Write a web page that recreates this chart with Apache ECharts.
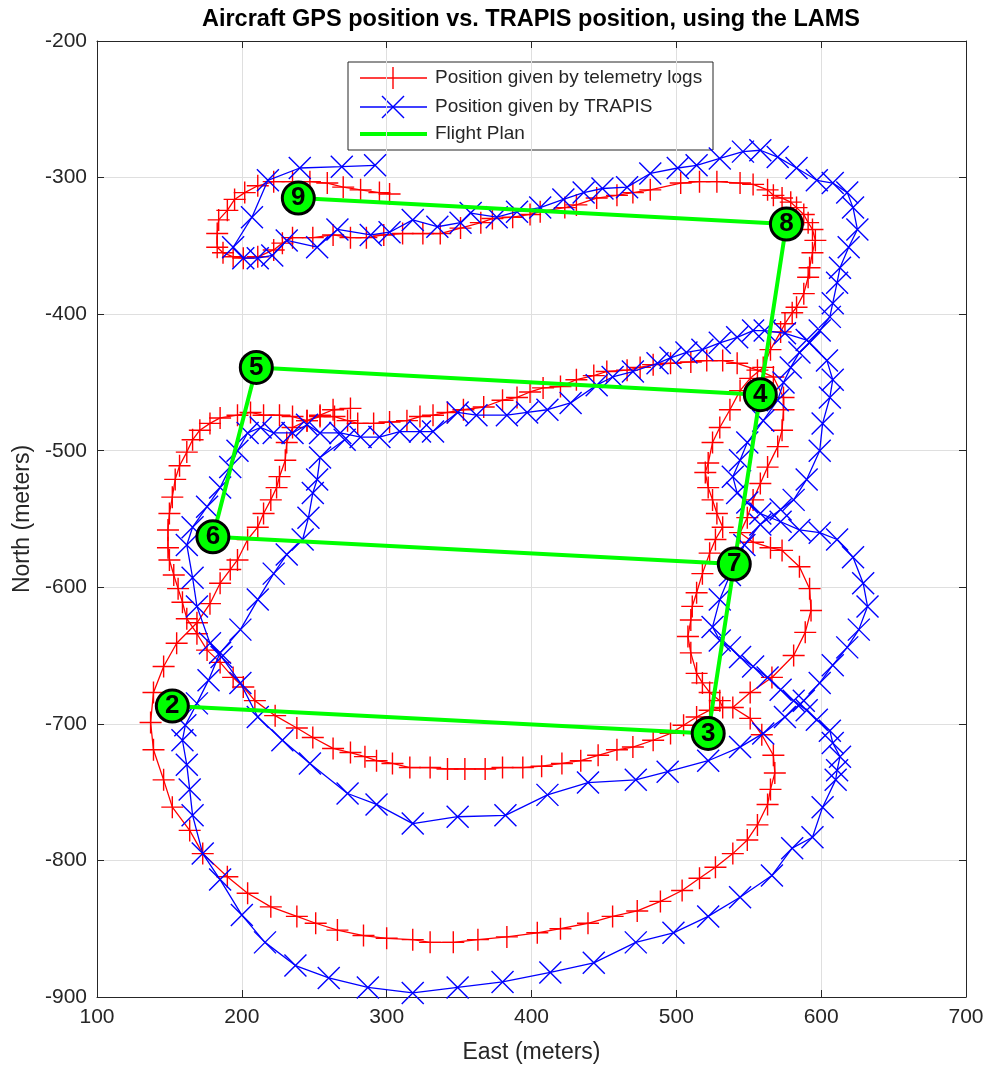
<!DOCTYPE html>
<html>
<head>
<meta charset="utf-8">
<title>Aircraft GPS position vs. TRAPIS position</title>
<script src="https://cdn.jsdelivr.net/npm/echarts@6/dist/echarts.min.js"></script>
<style>
  html, body { margin: 0; padding: 0; background: #fff; }
  #chart { width: 989px; height: 1073px; }
</style>
</head>
<body>
<div id="chart"></div>
<script>
// East / North positions in meters

// telemetry log track (red, '+')
const redTrack = [
  [275,-469],[263,-470],[254,-474],[245,-478],[235,-483],[231,-494],[230,-507],[226,-519],[224,-527],[220,-536],
  [215,-546],[211,-556],[204,-565],[197,-580],[192,-587],[185,-597],[178,-612],[169,-626],[155,-641],[146,-658],
  [139,-677],[137,-699],[139,-719],[146,-741],[152,-761],[164,-778],[173,-795],[190,-812],[204,-824],[220,-834],
  [238,-841],[251,-846],[266,-851],[284,-855],[300,-857],[318,-858],[330,-860],[346,-860],[363,-858],[383,-856],
  [404,-853],[420,-850],[439,-846],[456,-841],[473,-837],[489,-830],[504,-822],[516,-813],[527,-805],[539,-795],
  [549,-785],[556,-774],[563,-759],[565,-748],[568,-736],[567,-723],[559,-708],[551,-696],[539,-688],
  [551,-677],[566,-666],[581,-650],[589,-633],[593,-617],[592,-601],[585,-585],[573,-573],[565,-571],[553,-567],[544,-560],
  [549,-549],[553,-536],[558,-524],[563,-512],[570,-497],[573,-485],[574,-470],[574,-461],[567,-446],[556,-441],
  [542,-436],[532,-434],[521,-434],[510,-435],[496,-436],[484,-437],[475,-439],[466,-441],[452,-442],[443,-445],
  [431,-448],[420,-453],[408,-454],[399,-457],[390,-461],[380,-463],[367,-468],[353,-470],[342,-472],[332,-474],
  [323,-475],[314,-478],[302,-479],[291,-480],[280,-480],[273,-478],[264,-475],[254,-475],[245,-478],[235,-475],
  [226,-474],[215,-474],[206,-472],[197,-474],[185,-476],[178,-480],[171,-485],[166,-492],[162,-501],[157,-511],
  [154,-521],[152,-534],[150,-546],[149,-558],[149,-571],[150,-580],[153,-591],[156,-601],[159,-611],[162,-623],
  [169,-634],[176,-646],[185,-655],[194,-666],[201,-673],[209,-683],[223,-694],[238,-703],[249,-710],[263,-718],
  [275,-721],[285,-724],[293,-727],[304,-729],[316,-732],[330,-732],[342,-733],[354,-733],[368,-733],[380,-732],
  [394,-732],[407,-731],[421,-729],[434,-727],[446,-723],[459,-719],[470,-717],[484,-712],[496,-707],[505,-701],
  [514,-695],[523,-690],[532,-688],
  [530,-683],[523,-677],[518,-670],[514,-663],[510,-648],[508,-636],[510,-624],[511,-614],[514,-604],[518,-590],
  [523,-575],[527,-565],[532,-556],[528,-546],[525,-536],[522,-527],[520,-516],[522,-509],[525,-494],[530,-483],
  [537,-470],[544,-456],[551,-447],[560,-439],[565,-426],[572,-413],[575,-407],[580,-399],[583,-395],[588,-385],
  [591,-373],[592,-366],[594,-355],[596,-346],[594,-338],[591,-333],[588,-327],[583,-322],[579,-318],[573,-315],
  [567,-313],[563,-309],[553,-305],[544,-304],[528,-303],[516,-303],[503,-304],[482,-309],[470,-311],[459,-313],
  [445,-315],[431,-320],[423,-322],[406,-325],[399,-327],[387,-329],[373,-330],[365,-333],[351,-337],[337,-341],
  [325,-341],[311,-341],[298,-342],[286,-344],[275,-344],[263,-342],[249,-344],[235,-344],[228,-348],[222,-353],
  [211,-358],[201,-359],[194,-358],[187,-355],[183,-351],[183,-341],[184,-331],[190,-324],[195,-316],[202,-311],
  [211,-306],[222,-303],[235,-303],[247,-303],[259,-304],[270,-307],[282,-309],[295,-311],[302,-312]
];

// TRAPIS track (blue, 'x')
const blueTrack = [
  [271,-492],[254,-505],[252,-521],[249,-531],[246,-549],[242,-565],[231,-576],[222,-590],[211,-609],[199,-631],
  [185,-648],[177,-668],[169,-685],[161,-701],[159,-712],[162,-730],[164,-748],[166,-767],[173,-795],[185,-814],
  [200,-840],[216,-860],[237,-877],[260,-886],[287,-893],[318,-897],[349,-893],[380,-889],[413,-882],[443,-875],
  [472,-860],[498,-853],[522,-841],[544,-827],[566,-811],[580,-791],[594,-783],[601,-761],[610,-741],[611,-734],
  [613,-724],[608,-714],
  [606,-705],[597,-697],[590,-690],[581,-683],[572,-675],[563,-666],[553,-658],[544,-651],[537,-644],[530,-639],
  [525,-629],[530,-609],[537,-591],[547,-569],[558,-554],[572,-543],[581,-536],[590,-521],[599,-500],[601,-480],
  [606,-461],[608,-448],[604,-434],[590,-419],[575,-414],[561,-412],[553,-412],[542,-417],[530,-421],[518,-426],
  [507,-428],[496,-432],[487,-436],[470,-442],[456,-446],[445,-452],[427,-465],[411,-470],[397,-472],[383,-474],
  [362,-474],[349,-472],[332,-486],[323,-486],[309,-486],[295,-490],[282,-490],[268,-487],[254,-487],[245,-481],
  [235,-487],[222,-487],[213,-483],[204,-487],[197,-500],[192,-512],[185,-527],[176,-541],[166,-556],[162,-569],
  [166,-593],[169,-614],[178,-641],[186,-651],[199,-670],[211,-695],[228,-712],[247,-729],[273,-751],[293,-759],
  [318,-773],[349,-768],[382,-767],[411,-752],[439,-743],[472,-741],[494,-735],[522,-727],[544,-717],[560,-707],
  [575,-695],[588,-683],[599,-670],[608,-657],[618,-644],[626,-631],[632,-614],[629,-597],[622,-578],[611,-565],
  [599,-560],[585,-558],[572,-552],[558,-546],[549,-538],[542,-531],[539,-519],[544,-507],[549,-494],[560,-478],
  [570,-463],[574,-450],[579,-439],[585,-428],[592,-421],[599,-412],[606,-402],[608,-392],[611,-377],[613,-366],
  [619,-351],[625,-338],[622,-322],[618,-311],[608,-304],[597,-302],[583,-293],[570,-285],[558,-280],[546,-281],
  [530,-286],[514,-291],[501,-293],[482,-297],[466,-307],[449,-308],[436,-311],[422,-316],[406,-322],[390,-325],
  [376,-329],[358,-326],[351,-333],[335,-336],[318,-331],[302,-340],[289,-342],[266,-338],[252,-351],[231,-346],
  [221,-357],[211,-359],[201,-359],[194,-351],[207,-329],[218,-302],[240,-293],[269,-292],[292,-291]
];

// flight plan waypoints, in flight order
const planEast   = [152, 522, 558, 210, 180, 540, 576, 239];
const planNorth  = [-687, -707, -459, -439, -563, -583, -334, -315];
const planLabels = ['2', '3', '4', '5', '6', '7', '8', '9'];

const legendNames = ['Position given by telemetry logs', 'Position given by TRAPIS', 'Flight Plan'];

const FONT = '"Liberation Sans", Arial, Helvetica, sans-serif';
const INK = '#262626';
const RED = '#ff0000';
const BLUE = '#0000ff';
const GREEN = '#00ff00';
const PLUS = 'path://M12,0L12,24M0,12L24,12';
const CROSS = 'path://M0,0L24,24M24,0L0,24';

const planPoints = planEast.map((e, i) => [e, planNorth[i]]);

const chart = echarts.init(document.getElementById('chart'), null, { renderer: 'canvas' });

function mirrorAxis(pos, min, max) {
  return {
    type: 'value', position: pos, min: min, max: max, interval: 100,
    axisLine: { show: true, onZero: false, lineStyle: { color: INK, width: 1 } },
    axisTick: { show: true, inside: true, length: 7, lineStyle: { color: INK } },
    axisLabel: { show: false },
    splitLine: { show: false },
  };
}

function trackSeries(name, data, symbol, color, z) {
  return {
    name: name,
    type: 'line',
    data: data,
    z: z,
    symbol: symbol,
    symbolSize: 22,
    showAllSymbol: true,
    lineStyle: { color: color, width: 1.3 },
    itemStyle: { color: color, borderColor: color, borderWidth: 1.4 },
    emphasis: { disabled: true },
    silent: true,
  };
}

const legendRows = [78, 107, 134];
const legendGraphics = [
  { type: 'rect', shape: { x: 348, y: 62, width: 365, height: 88 },
    style: { fill: '#ffffff', stroke: INK, lineWidth: 1 } },
  { type: 'line', shape: { x1: 360, y1: legendRows[0], x2: 427, y2: legendRows[0] }, style: { stroke: RED, lineWidth: 1.3 } },
  { type: 'line', shape: { x1: 393, y1: legendRows[0] - 11, x2: 393, y2: legendRows[0] + 11 }, style: { stroke: RED, lineWidth: 1.4 } },
  { type: 'line', shape: { x1: 360, y1: legendRows[1], x2: 427, y2: legendRows[1] }, style: { stroke: BLUE, lineWidth: 1.3 } },
  { type: 'line', shape: { x1: 382, y1: legendRows[1] - 11, x2: 404, y2: legendRows[1] + 11 }, style: { stroke: BLUE, lineWidth: 1.4 } },
  { type: 'line', shape: { x1: 404, y1: legendRows[1] - 11, x2: 382, y2: legendRows[1] + 11 }, style: { stroke: BLUE, lineWidth: 1.4 } },
  { type: 'line', shape: { x1: 360, y1: legendRows[2], x2: 427, y2: legendRows[2] }, style: { stroke: GREEN, lineWidth: 4 } },
].concat(legendNames.map((t, i) => ({
  type: 'text', x: 435, y: legendRows[i],
  style: { text: t, font: '19px ' + FONT, fill: INK, textAlign: 'left', textVerticalAlign: 'middle' },
})));

chart.setOption({
  animation: false,
  backgroundColor: '#ffffff',
  textStyle: { fontFamily: FONT },
  grid: { left: 97, right: 23, top: 41, bottom: 76 },
  xAxis: [
    {
      type: 'value', position: 'bottom', min: 100, max: 700, interval: 100,
      name: 'East (meters)', nameLocation: 'middle', nameGap: 44,
      nameTextStyle: { fontSize: 23, color: INK, fontFamily: FONT },
      axisLine: { show: true, onZero: false, lineStyle: { color: INK, width: 1 } },
      axisTick: { show: true, inside: true, length: 7, lineStyle: { color: INK } },
      axisLabel: { fontSize: 21, color: INK, margin: 10, fontFamily: FONT },
      splitLine: { show: true, lineStyle: { color: '#dfdfdf', width: 1 } },
    },
    mirrorAxis('top', 100, 700),
  ],
  yAxis: [
    {
      type: 'value', position: 'left', min: -900, max: -200, interval: 100,
      name: 'North (meters)', nameLocation: 'middle', nameGap: 58, nameRotate: 90,
      nameTextStyle: { fontSize: 23, color: INK, fontFamily: FONT },
      axisLine: { show: true, onZero: false, lineStyle: { color: INK, width: 1 } },
      axisTick: { show: true, inside: true, length: 7, lineStyle: { color: INK } },
      axisLabel: { fontSize: 21, color: INK, margin: 10, fontFamily: FONT },
      splitLine: { show: true, lineStyle: { color: '#dfdfdf', width: 1 } },
    },
    mirrorAxis('right', -900, -200),
  ],
  graphic: [
    { type: 'text', x: 531, y: 20, z: 100,
      style: { text: 'Aircraft GPS position vs. TRAPIS position, using the LAMS',
               font: 'bold 23.5px ' + FONT, fill: '#000000', textAlign: 'center', textVerticalAlign: 'middle' } },
    { type: 'group', z: 100, children: legendGraphics },
  ],
  series: [
    trackSeries(legendNames[0], redTrack, PLUS, RED, 2),
    trackSeries(legendNames[1], blueTrack, CROSS, BLUE, 3),
    {
      name: legendNames[2], type: 'line', data: planPoints, z: 4,
      symbol: 'none', lineStyle: { color: GREEN, width: 4 },
      emphasis: { disabled: true }, silent: true,
    },
    {
      name: 'waypoints', type: 'scatter', data: planPoints, z: 5,
      symbol: 'circle', symbolSize: 32,
      itemStyle: { color: GREEN, borderColor: '#000000', borderWidth: 3, opacity: 1 },
      label: {
        show: true, position: 'inside',
        formatter: p => planLabels[p.dataIndex],
        fontSize: 26, fontWeight: 'bold', color: '#000000', fontFamily: FONT,
      },
      emphasis: { disabled: true }, silent: true,
    },
  ],
});
</script>
</body>
</html>
